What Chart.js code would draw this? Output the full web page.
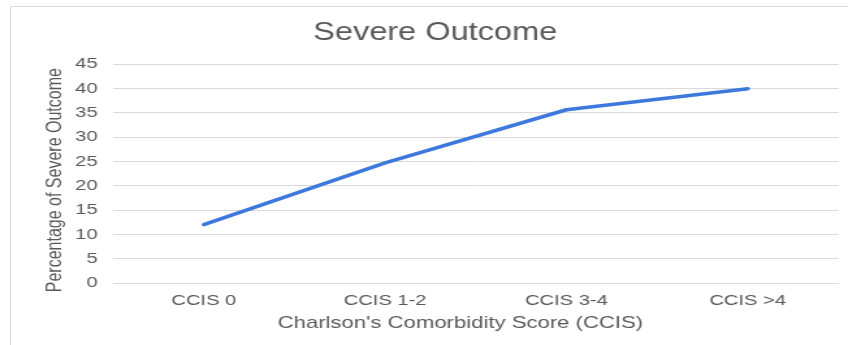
<!DOCTYPE html>
<html>
<head>
<meta charset="utf-8">
<script src="https://cdn.jsdelivr.net/npm/chart.js@4.4.1/dist/chart.umd.min.js"></script>
<style>
  html, body { margin: 0; padding: 0; background: #fff; overflow: hidden; }
  #wrap { position: relative; width: 848px; height: 345px; }
  #frame { position: absolute; left: 10px; top: 6px; right: -5px; bottom: -5px;
           border-left: 1px solid #d9d9d9; border-top: 1px solid #d9d9d9; }
  #chart { position: absolute; left: 0; top: 0; }
</style>
</head>
<body>
<div id="wrap">
  <div id="frame"></div>
  <!-- drawn at 652 wide and shown stretched to 848, like the reference -->
  <canvas id="chart" width="652" height="345" style="width:848px;height:345px"></canvas>
</div>
<script>
// ==========================
// Data
// ==========================
const categories = ['CCIS 0', 'CCIS 1-2', 'CCIS 3-4', 'CCIS >4'];
const severeOutcome = [12, 24.7, 35.6, 39.9];
const yTicks = [0, 5, 10, 15, 20, 25, 30, 35, 40, 45];

const grey = '#595959';
const font = 'Arial, "Liberation Sans", sans-serif';

// ==========================
// Chart
// ==========================
const ctx = document.getElementById('chart').getContext('2d');
new Chart(ctx, {
  type: 'line',
  data: {
    labels: categories,
    datasets: [{
      label: 'Severe Outcome',
      data: severeOutcome,
      borderColor: '#3d78dc',
      borderWidth: 3.5,
      pointRadius: 0,
      tension: 0,
      borderCapStyle: 'round',
      borderJoinStyle: 'round'
    }]
  },
  options: {
    responsive: false,
    animation: false,
    layout: { padding: { left: 24.6, right: 7.4, top: 0, bottom: 0 } },
    plugins: {
      legend: { display: false },
      tooltip: { enabled: false },
      title: {
        display: true,
        text: 'Severe Outcome',
        color: grey,
        font: { family: font, size: 25, weight: 'normal' },
        padding: { top: 18, bottom: 16 }
      }
    },
    scales: {
      x: {
        offset: true,
        grid: { display: false, drawTicks: false },
        border: { display: false },
        ticks: { color: grey, font: { family: font, size: 15.5 }, padding: 8, maxRotation: 0 },
        title: {
          display: true,
          // trailing spaces nudge the centred title left, as in the reference
          text: "Charlson's Comorbidity Score (CCIS)     ",
          color: grey,
          font: { family: font, size: 17 },
          padding: { top: 0, bottom: 11 }
        },
        afterFit: s => { s.height = 62; }
      },
      y: {
        min: 0,
        max: 45,
        afterBuildTicks: s => { s.ticks = yTicks.map(v => ({ value: v })); },
        grid: { color: '#d9d9d9', lineWidth: 1, drawTicks: false },
        border: { display: false },
        ticks: { color: grey, font: { family: font, size: 15.5 }, padding: 12 },
        title: {
          display: true,
          text: 'Percentage of Severe Outcome   ',
          color: grey,
          font: { family: font, size: 16 },
          padding: { top: 8, bottom: 0 }
        },
        afterFit: s => { s.width = 62.4; }
      }
    }
  }
});
</script>
</body>
</html>
